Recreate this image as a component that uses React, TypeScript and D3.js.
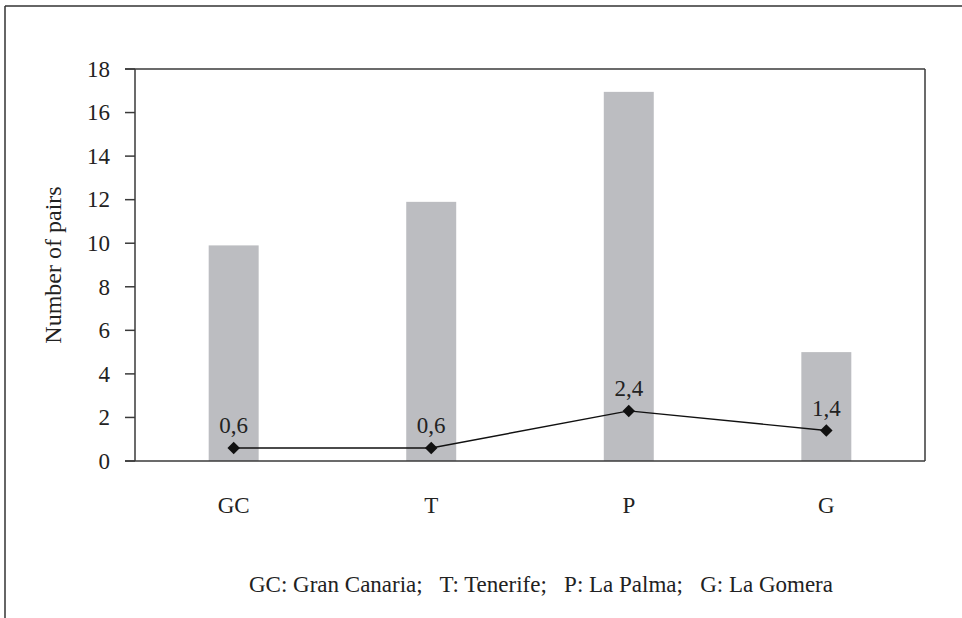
import React from 'react';
import * as d3 from 'd3';

const islands = ['GC', 'T', 'P', 'G'];
const pairs = [9.9, 11.9, 16.95, 5];
const density = [0.6, 0.6, 2.3, 1.4];
const densityLabels = ['0,6', '0,6', '2,4', '1,4'];
const yTicks = [0, 2, 4, 6, 8, 10, 12, 14, 16, 18];
const footnote = 'GC: Gran Canaria;   T: Tenerife;   P: La Palma;   G: La Gomera';

const W = 962;
const H = 618;
const margin = { top: 69, right: 37, bottom: 157, left: 135 };
const font = '"Liberation Serif", "Times New Roman", serif';
const axisColor = '#3a3a3a';
const fs = 23;

export default function App() {
  const x = d3.scaleBand<string>()
    .domain(islands)
    .range([margin.left, W - margin.right])
    .paddingInner(0.747)
    .paddingOuter(0.373);

  const y = d3.scaleLinear()
    .domain([0, 18])
    .range([H - margin.bottom, margin.top]);

  const cx = (d: string) => (x(d) ?? 0) + x.bandwidth() / 2;

  const line = d3.line<number>()
    .x((_, i) => cx(islands[i]))
    .y(d => y(d));

  const diamond = d3.symbol().type(d3.symbolDiamond2).size(100)();

  const x0 = margin.left;
  const x1 = W - margin.right;
  const y0 = y(0);
  const y1 = y(18);

  return (
    <svg width={W} height={H} style={{ position: 'absolute', left: 0, top: 0, background: '#fff' }}
      fontFamily={font}>
      {/* outer frame */}
      <line x1={5} y1={6} x2={W} y2={6} stroke="#333" strokeWidth={1.5} />
      <line x1={5} y1={6} x2={5} y2={H} stroke="#333" strokeWidth={1.5} />

      {/* bars */}
      {islands.map((d, i) => (
        <rect key={d} x={x(d)} y={y(pairs[i])} width={x.bandwidth()} height={y0 - y(pairs[i])}
          fill="#bcbdc1" />
      ))}

      {/* plot box */}
      <line x1={x0 - 10} y1={y1} x2={x1} y2={y1} stroke={axisColor} strokeWidth={1.5} />
      <line x1={x0 - 10} y1={y0} x2={x1} y2={y0} stroke={axisColor} strokeWidth={1.5} />
      <line x1={x0} y1={y1} x2={x0} y2={y0} stroke={axisColor} strokeWidth={1.5} />
      <line x1={x1} y1={y1} x2={x1} y2={y0} stroke={axisColor} strokeWidth={1.5} />

      {/* y ticks */}
      {yTicks.map(t => (
        <g key={t} transform={`translate(0,${y(t)})`}>
          <line x1={x0 - 10} x2={x0} stroke={axisColor} strokeWidth={1.5} />
          <text x={x0 - 25} dy="0.34em" textAnchor="end" fontSize={fs} fill="#222">{t}</text>
        </g>
      ))}

      {/* y title */}
      <text transform={`translate(61,${(y0 + y1) / 2}) rotate(-90)`} textAnchor="middle" fontSize={24}
        fill="#222">Number of pairs</text>

      {/* x labels */}
      {islands.map(d => (
        <text key={d} x={cx(d)} y={513} textAnchor="middle" fontSize={fs} fill="#222">{d}</text>
      ))}

      {/* line series */}
      <path d={line(density) ?? ''} fill="none" stroke="#111" strokeWidth={1.4} />
      {density.map((v, i) => (
        <g key={i} transform={`translate(${cx(islands[i])},${y(v)})`}>
          <path d={diamond ?? ''} fill="#111" />
          <text y={-15} textAnchor="middle" fontSize={fs} fill="#222">{densityLabels[i]}</text>
        </g>
      ))}

      {/* footnote */}
      <text x={541} y={592} textAnchor="middle" fontSize={fs} fill="#222"
        style={{ whiteSpace: 'pre' }}>{footnote}</text>
    </svg>
  );
}
